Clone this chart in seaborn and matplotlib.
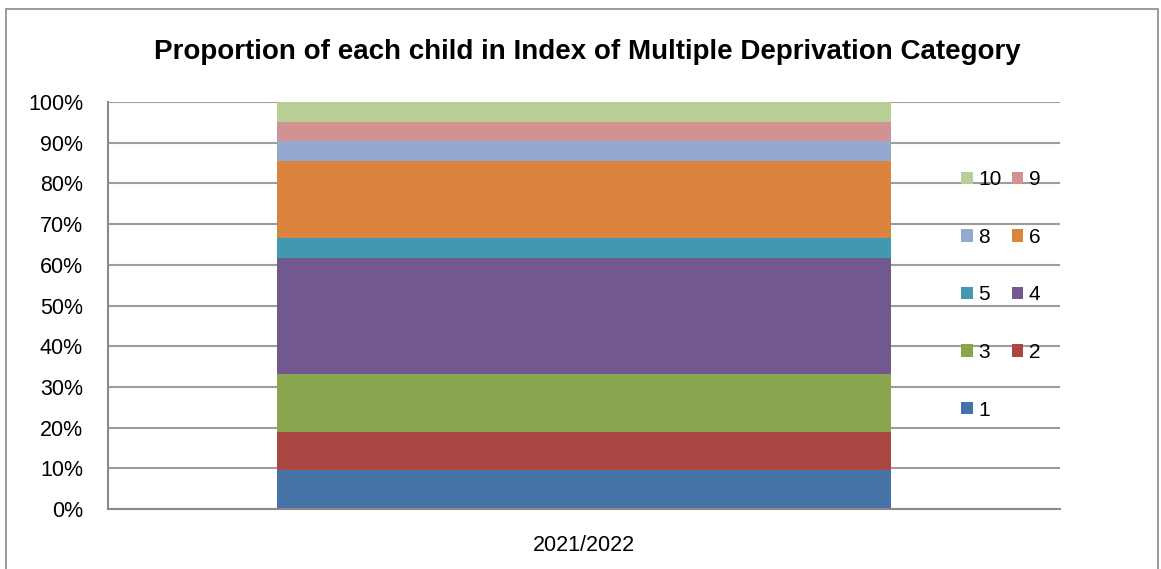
import matplotlib
matplotlib.use("Agg")
import matplotlib.pyplot as plt
import seaborn as sns
import numpy as np
import pandas as pd
from matplotlib.patches import Rectangle, Patch

categories = ["1", "2", "3", "4", "5", "6", "8", "9", "10"]
values = [9.5, 9.3, 14.3, 28.5, 4.9, 19.1, 4.9, 4.6, 4.9]
colors = ["#4572A7", "#AA4643", "#89A54E", "#71588F", "#4198AF",
          "#DB843D", "#93A9CF", "#D19392", "#B9CD96"]
period = ["2021/2022"]
yticks = [0, 10, 20, 30, 40, 50, 60, 70, 80, 90, 100]

sns.set_theme(style="white")
plt.rcParams['font.family'] = ['Liberation Sans', 'DejaVu Sans']
plt.rcParams['text.color'] = 'black'
plt.rcParams['xtick.color'] = 'black'
plt.rcParams['ytick.color'] = 'black'

fig = plt.figure(figsize=(11.61, 5.69), dpi=100)
ax = fig.add_axes([108/1161, 1 - 509/569, (1060-108)/1161, (509-102)/569])

cum = np.cumsum(values)
for i in range(len(values) - 1, -1, -1):
    df = pd.DataFrame({"period": period, "value": [cum[i]]})
    sns.barplot(data=df, x="period", y="value", color=colors[i],
                width=0.645, saturation=1, ax=ax, zorder=2,
                linewidth=0, edgecolor="none")

ax.set_ylim(0, 100)
ax.set_xlim(-0.5, 0.5)
ax.set_yticks(yticks)
ax.set_yticklabels([f"{t}%" for t in yticks], fontsize=15.5)
ax.set_xticks([0])
ax.set_xticklabels(period, fontsize=15.5)
ax.tick_params(axis='x', pad=19, length=0)
ax.tick_params(axis='y', pad=18, length=0)
ax.set_xlabel("")
ax.set_ylabel("")
ax.yaxis.grid(True, color="#9c9c9c", linewidth=1.5, zorder=0)
ax.set_axisbelow(True)
for s in ["top", "right"]:
    ax.spines[s].set_visible(False)
ax.spines["left"].set_color("#8a8a8a")
ax.spines["bottom"].set_color("#8a8a8a")
ax.spines["left"].set_linewidth(1.5)
ax.spines["bottom"].set_linewidth(1.5)

fig.text(587/1161, 1 - 52/569, "Proportion of each child in Index of Multiple Deprivation Category",
         ha="center", va="center", fontsize=20, fontweight="bold")

# outer chart border
fig.patches.append(Rectangle((6/1161, -0.05), (1158-6)/1161, 1 - 9/569 + 0.05,
                             transform=fig.transFigure, fill=False,
                             edgecolor="#8a8a8a", linewidth=1.2))

order = [8, 6, 4, 2, 0, 7, 5, 3, 1]
handles = [Patch(facecolor=colors[i], edgecolor="none") for i in order]
labels = [categories[i] for i in order]
leg = fig.legend(handles, labels, ncol=2, loc="upper left",
                 bbox_to_anchor=(951/1161, 1 - 160/569), frameon=False,
                 fontsize=15, handlelength=0.55, handleheight=0.55,
                 handletextpad=0.25, columnspacing=0.5, labelspacing=1.85,
                 borderpad=0)

fig.savefig("out.png", dpi=100, facecolor="white")
